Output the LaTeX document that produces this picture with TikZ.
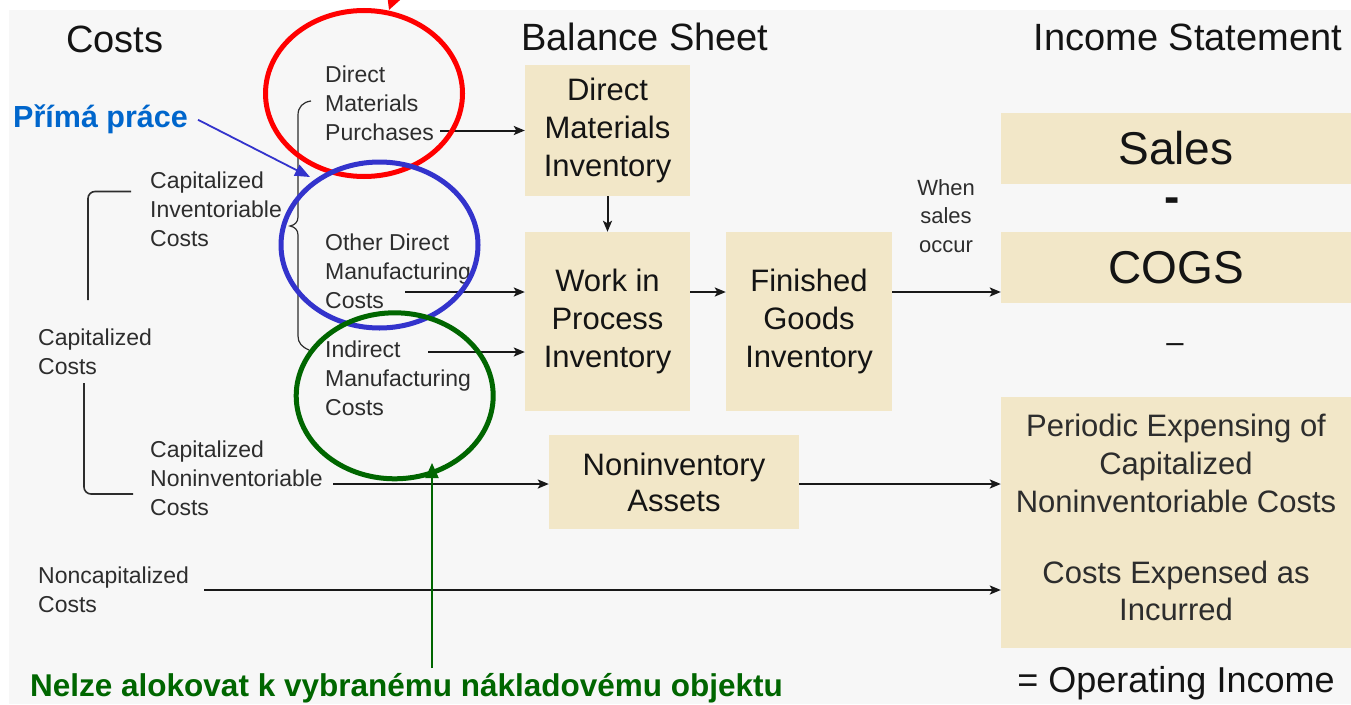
\documentclass[tikz,border=0pt]{standalone}
\usepackage{fontspec}
\setmainfont{Liberation Sans}
\usetikzlibrary{arrows.meta,shapes.geometric}
\definecolor{bgc}{RGB}{247,247,247}
\definecolor{tan}{RGB}{242,231,200}
\definecolor{hdrc}{RGB}{20,20,20}
\definecolor{txtc}{RGB}{45,45,45}
\definecolor{ellred}{RGB}{255,0,0}
\definecolor{ellblue}{RGB}{51,51,204}
\definecolor{ellgreen}{RGB}{0,102,0}
\definecolor{txtblue}{RGB}{0,102,204}
\begin{document}
\begin{tikzpicture}[x=1pt,y=-1pt,
  hdr/.style={font=\fontsize{38}{44}\selectfont, text=hdrc, inner sep=0pt},
  small/.style={font=\fontsize{23}{29}\selectfont, text=txtc, inner sep=0pt, align=left, anchor=north west},
  box/.style={fill=tan, inner sep=0pt, align=center, font=\fontsize{31}{38}\selectfont, text=hdrc},
  boxtxt/.style={inner sep=0pt, align=center, font=\fontsize{31}{38}\selectfont, text=txtc, anchor=north},
  arr/.style={line width=2pt, draw=black!90, -{Stealth[length=11pt,width=9pt,inset=2.5pt]}},
  bracketline/.style={line width=1.6pt, draw=txtc},
  ell/.style={ellipse, line width=5pt, minimum width=197pt, minimum height=166pt, inner sep=0pt},
]
\useasboundingbox (0,0) rectangle (1351,704);
\clip (0,0) rectangle (1351,704);
\fill[bgc] (9,10) rectangle (1351,704);

% headers
\node[hdr, anchor=base] (hcost) at (115,52) {Costs};
\node[hdr, anchor=base] (hbal) at (645,50) {Balance Sheet};
\node[hdr, anchor=base] (hinc) at (1188,50) {Income Statement};

% left texts
\node[small] (dmp) at (325,65.5) {Direct\\Materials\\Purchases};
\node[small] (cic) at (150,171.5) {Capitalized\\Inventoriable\\Costs};
\node[small] (cc) at (38,328.5) {Capitalized\\Costs};
\node[small] (odm) at (325,233.5) {Other Direct\\Manufacturing\\Costs};
\node[small] (imc) at (325,340.5) {Indirect\\Manufacturing\\Costs};
\node[small] (cnc) at (150,440.5) {Capitalized\\Noninventoriable\\Costs};
\node[small] (nc) at (38,566.5) {Noncapitalized\\Costs};
\node[small, anchor=north, align=center, font=\fontsize{22}{28.5}\selectfont] (wso) at (946,179) {When\\sales\\occur};

% balance sheet boxes
\node[box, minimum width=165, minimum height=131] (dmi) at (607.5,130.5) {Direct\\Materials\\Inventory};
\node[box, minimum width=165, minimum height=179] (wip) at (607.5,321.5) {Work in\\Process\\Inventory};
\node[box, minimum width=166, minimum height=179] (fg) at (809,321.5) {Finished\\Goods\\Inventory};
\node[box, minimum width=250, minimum height=94, font=\fontsize{31}{36}\selectfont] (na) at (674,482) {Noninventory\\Assets};

% income statement
\node[box, minimum width=350, minimum height=71, font=\fontsize{46}{50}\selectfont] (sales) at (1176,148.5) {Sales};
\node[hdr, anchor=base, font=\bfseries\fontsize{46}{50}\selectfont] (minus1) at (1172,212.6) {-};
\node[box, minimum width=350, minimum height=71, font=\fontsize{46}{50}\selectfont] (cogs) at (1176,267.5) {COGS};
\node[hdr, anchor=base, font=\fontsize{31}{36}\selectfont] (minus2) at (1175,352.5) {–};
\node[box, minimum width=350, minimum height=251] (bigbox) at (1176,522.5) {};
\node[boxtxt] (pe) at (1176,413.8) {Periodic Expensing of\\Capitalized\\Noninventoriable Costs};
\node[boxtxt, font=\fontsize{31}{37}\selectfont] (cei) at (1176,560.8) {Costs Expensed as\\Incurred};
\node[hdr, anchor=base, font=\fontsize{36}{40}\selectfont] (oi) at (1176,692) {= Operating Income};

% brackets
\draw[bracketline, rounded corners=7pt] (131,191.5) -- (88,191.5) -- (88,300);
\draw[bracketline, rounded corners=7pt] (84,383) -- (84,494) -- (133,494);
\draw[line width=1.2pt, draw=txtc] (311,101) .. controls (303,102) and (298,107) .. (298,115) -- (298,217)
  .. controls (298,222) and (295,225) .. (290,226) .. controls (295,227) and (298,230) .. (298,235)
  -- (298,336) .. controls (298,343) and (302,347) .. (309,350);

% connector start points
\coordinate (odm-e) at (405,292);
\coordinate (imc-e) at (428,352);
\coordinate (cnc-e) at (333,484);
\coordinate (nc-e) at (204,590);

% arrows
\draw[arr] ([xshift=6pt]dmp.east |- dmi.west) -- (dmi.west);
\draw[arr] (dmi.south) -- (wip.north);
\draw[arr] (odm-e) -- (odm-e -| wip.west);
\draw[arr] (imc-e) -- (imc-e -| wip.west);
\draw[arr] (wip.east |- odm-e) -- (fg.west |- odm-e);
\draw[arr] (fg.east |- odm-e) -- (cogs.west |- odm-e);
\draw[arr] (cnc-e) -- (cnc-e -| na.west);
\draw[arr] (na.east |- cnc-e) -- (bigbox.west |- cnc-e);
\draw[arr] (nc-e) -- (nc-e -| bigbox.west);

% ellipses
\node[ell, draw=ellred] (redell) at (364,93.5) {};
\node[ell, draw=ellblue] (blueell) at (379.5,245) {};
\node[ell, draw=ellgreen] (greenell) at (394.7,395.8) {};

% annotations
\coordinate (red-s) at (404,-30);
\coordinate (red-t) at (389,10);
\draw[line width=2pt, draw=ellred, -{Triangle[length=14pt,width=14pt]}] (red-s) -- (red-t);

\node[inner sep=0pt, anchor=base west, text=txtblue, font=\bfseries\fontsize{30.5}{34}\selectfont] (pp) at (13,127) {Přímá práce};
\coordinate (pp-t) at (310,177);
\draw[line width=1.8pt, draw=ellblue, -{Triangle[length=15pt,width=12pt]}] ([xshift=10pt,yshift=-1pt]pp.east) -- (pp-t);

\node[inner sep=0pt, anchor=base west, text=ellgreen, font=\bfseries\fontsize{31.5}{34}\selectfont] (nel) at (30,696) {Nelze alokovat k vybranému nákladovému objektu};
\coordinate (ga-s) at (432,668);
\coordinate (ga-t) at (432,463);
\draw[line width=2pt, draw=ellgreen, -{Triangle[length=15pt,width=13pt]}] (ga-s) -- (ga-t);
\end{tikzpicture}
\end{document}
